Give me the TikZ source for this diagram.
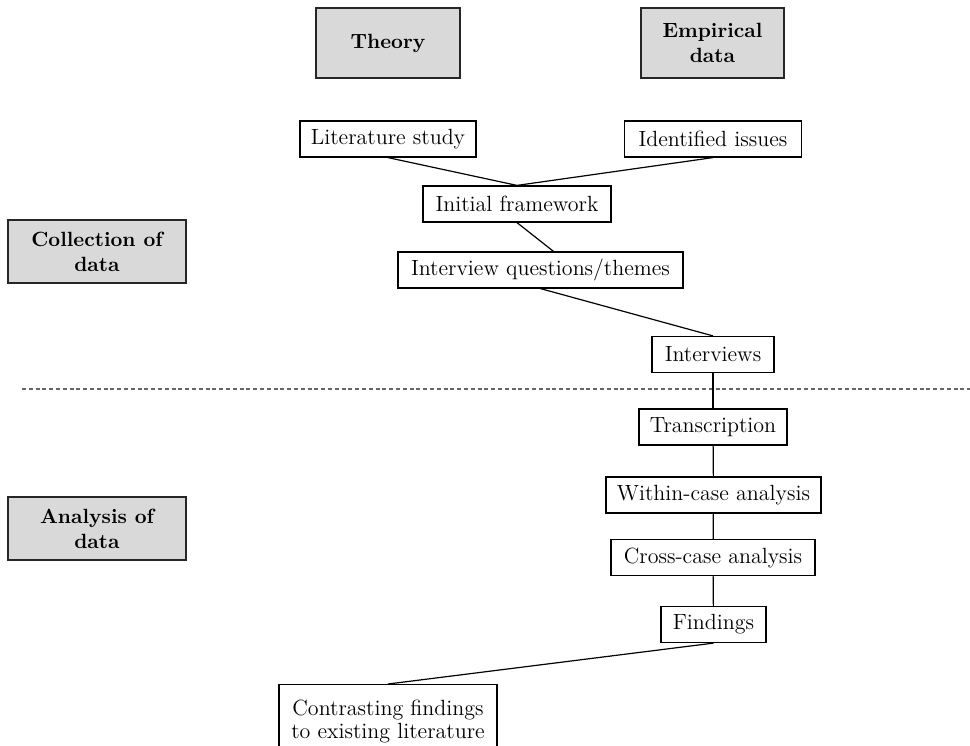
\documentclass[tikz,border=0pt]{standalone}
\usepackage{tikz}
\usetikzlibrary{positioning}

\definecolor{boxgray}{HTML}{D9D9D9}
\definecolor{sepgray}{HTML}{666666}

\begin{document}
\begin{tikzpicture}[
    x=0.5pt, y=-0.5pt,
    % Node styles
    phase/.style={rectangle, draw=black!85, fill=boxgray, line width=0.6pt,
                  align=center, inner sep=0pt,
                  font=\fontsize{10.3}{12.5}\selectfont\bfseries},
    stepbox/.style={rectangle, draw=black, fill=white, line width=0.6pt,
                    align=center, inner xsep=4pt, inner ysep=0pt,
                    minimum height=18pt, font=\fontsize{11}{11.5}\selectfont},
    link/.style={-, line width=0.6pt, color=black},
    sepline/.style={line width=0.6pt, color=sepgray, dash pattern=on 2pt off 1.4pt}
]
\useasboundingbox (0,0) rectangle (970,745);

% Sources
\node[phase, minimum width=72pt, minimum height=35pt] (theory) at (388,43) {Theory};
\node[phase, minimum width=71.5pt, minimum height=35pt] (empirical) at (712.5,43) {Empirical\\data};

% Phases
\node[phase, minimum width=89pt, minimum height=31.5pt] (collect) at (97,251.5) {Collection of\\data};
\node[phase, minimum width=89pt, minimum height=31.5pt] (analysis) at (97,528.5) {Analysis of\\data};

% Collection steps
\node[stepbox, minimum width=88pt] (lit) at (388,139) {Literature study};
\node[stepbox, minimum width=88.5pt] (issues) at (713,139) {Identified issues};
\node[stepbox, minimum width=94pt] (init) at (517,204) {Initial framework};
\node[stepbox, minimum width=142.5pt] (questions) at (540.5,270) {Interview questions/themes};
\node[stepbox, minimum width=61pt] (interviews) at (713,354.5) {Interviews};

% Analysis steps
\node[stepbox, minimum width=74pt] (transcr) at (713,427) {Transcription};
\node[stepbox, minimum width=107.5pt] (within) at (713.5,495) {Within-case analysis};
\node[stepbox, minimum width=102pt] (cross) at (713,557.5) {Cross-case analysis};
\node[stepbox, minimum width=52.5pt] (findings) at (713.5,624.5) {Findings};
\node[stepbox, minimum width=109pt, anchor=north,
      inner ysep=7.5pt, text depth=6pt] (contrast) at (388,684)
      {Contrasting findings\\to existing literature};

% Separator
\coordinate (sepL) at (22,389);
\coordinate (sepR) at (970,389);
\draw[sepline] (sepL) -- (sepR);

% Connectors
\draw[link] (lit.south) -- (init.north);
\draw[link] (issues.south) -- (init.north);
\draw[link] (init.south) -- ([xshift=6.5pt]questions.north);
\draw[link] (questions.south) -- (interviews.north);
\draw[link] (interviews) -- (transcr);
\draw[link] (transcr) -- (within);
\draw[link] (within) -- (cross);
\draw[link] (cross) -- (findings);
\draw[link] (findings.south) -- (contrast.north);

\end{tikzpicture}
\end{document}
